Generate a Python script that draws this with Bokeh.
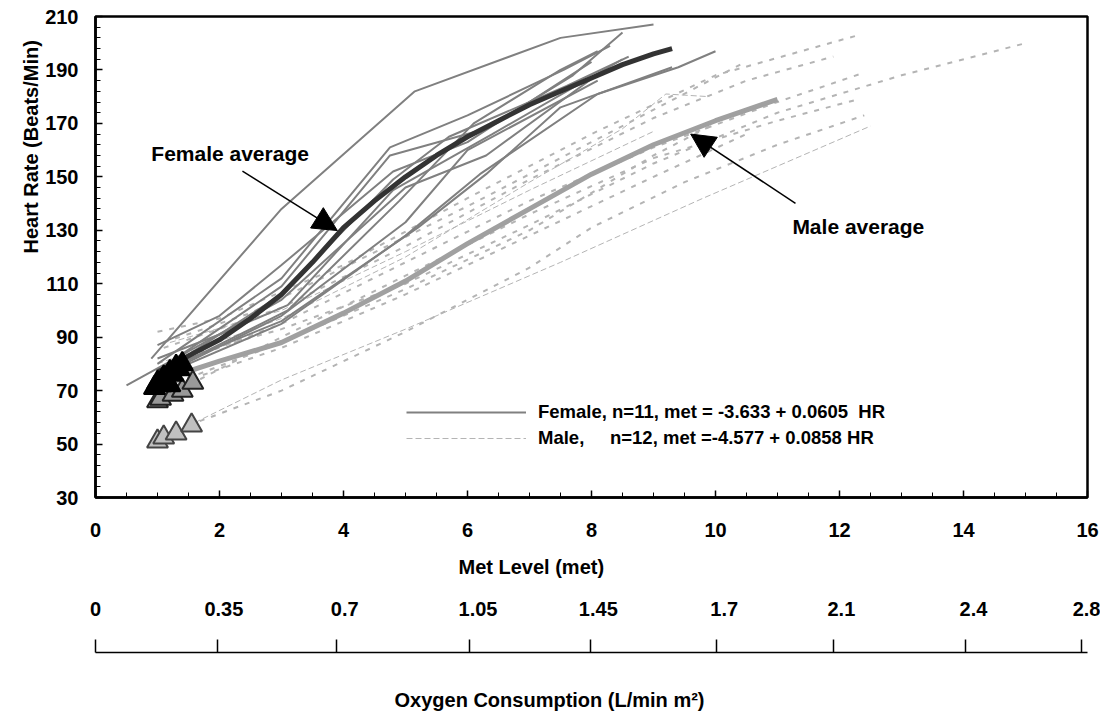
from bokeh.plotting import figure
from bokeh.models import (Range1d, LinearAxis, FixedTicker, Arrow, NormalHead,
                          Label, Legend, LegendItem, Title)
from bokeh.embed import file_html
from bokeh.resources import INLINE

FONT = "Liberation Sans"

# ---------------- data ----------------
met_ticks = [0, 2, 4, 6, 8, 10, 12, 14, 16]
met_minor = [i * 0.5 for i in range(33)]
hr_ticks = [30, 50, 70, 90, 110, 130, 150, 170, 190, 210]
hr_minor = list(range(30, 211, 4))
# oxygen consumption scale (tick marks and their labels, positions in met units)
oxygen_tick_met = [0, 1.96, 3.89, 6.03, 7.98, 10.01, 11.9, 14.03, 15.9]
oxygen_label_met = [0, 2.07, 4.02, 6.17, 8.11, 10.14, 12.03, 14.16, 16.0]
oxygen_labels = ["0", "0.35", "0.7", "1.05", "1.45", "1.7", "2.1", "2.4", "2.8"]

female_x = [
    [0.9, 3.0, 5.15, 7.5, 9.0],
    [1.0, 3.0, 4.75, 6.0, 7.55, 8.3],
    [1.1, 3.0, 4.75, 6.3, 7.7, 8.5],
    [1.0, 3.0, 4.8, 5.7, 7.6, 8.6],
    [1.2, 3.1, 4.9, 6.1, 7.5, 8.1],
    [1.0, 3.0, 5.0, 6.0, 8.1],
    [0.5, 1.6, 3.0, 5.0, 6.3, 8.2],
    [1.3, 3.0, 5.2, 6.3, 7.5, 9.3],
    [1.2, 3.0, 5.0, 6.2, 8.1, 9.4, 10.0],
    [1.0, 2.0, 3.0, 4.8, 6.0, 8.0],
    [1.0, 2.0, 3.1, 4.8, 6.4, 8.5],
]
female_y = [
    [82, 138, 182, 202, 207],
    [80, 112, 161, 173, 190, 199],
    [79, 109, 158, 168, 188, 204],
    [76, 106, 149, 165, 184, 195],
    [78, 100, 141, 170, 190, 197],
    [75, 98, 133, 160, 186],
    [72, 86, 104, 146, 158, 190],
    [80, 96, 131, 151, 176, 191],
    [77, 95, 128, 151, 181, 191, 197],
    [87, 98, 117, 152, 163, 193],
    [82, 91, 102, 145, 166, 194],
]

male_x = [
    [1.0, 2.0, 4.0, 6.0, 8.0, 10.0, 12.3],
    [1.3, 3.0, 5.0, 7.0, 9.0, 11.0, 13.0, 15.0],
    [1.1, 3.0, 5.0, 7.0, 9.0, 10.5, 11.9],
    [1.2, 3.0, 5.0, 7.0, 9.0, 11.0, 12.4],
    [1.0, 3.0, 5.0, 7.0, 9.0, 11.0, 12.3],
    [1.5, 3.0, 5.0, 7.0, 8.0, 9.5, 11.0, 12.4],
    [1.1, 2.5, 4.0, 6.0, 8.0, 10.4],
    [1.3, 3.0, 5.0, 7.0, 9.0, 10.0],
    [1.0, 3.0, 5.0, 7.0, 9.0, 10.5],
]
male_y = [
    [92, 97, 117, 142, 166, 188, 203],
    [82, 93, 110, 132, 155, 174, 188, 200],
    [86, 101, 124, 149, 172, 186, 195],
    [79, 95, 118, 141, 161, 178, 189],
    [66, 90, 113, 136, 157, 171, 179],
    [57, 70, 92, 116, 131, 148, 162, 173],
    [88, 99, 116, 139, 163, 192],
    [73, 88, 108, 130, 158, 170],
    [70, 86, 106, 128, 150, 166],
]
male_thin_x = [
    [1.6, 3.0, 5.0, 7.5, 9.8, 12.5],
    [1.0, 3.0, 5.0, 7.0, 8.5, 9.2, 9.9],
    [1.2, 3.0, 5.0, 7.0, 9.0],
]
male_thin_y = [
    [58, 74, 93, 118, 142, 169],
    [80, 97, 120, 148, 168, 181, 180],
    [88, 100, 122, 145, 167],
]

female_avg_x = [1.0, 1.5, 2.0, 2.5, 3.0, 3.5, 4.0, 4.5, 5.0, 5.5, 6.0, 6.5, 7.0, 7.5, 8.0, 8.5, 9.0, 9.3]
female_avg_y = [77, 83, 89, 97, 106, 118, 131, 141, 150, 158, 165, 171, 177, 182, 187, 192, 196, 198]
male_avg_x = [1.2, 2.0, 3.0, 4.0, 5.0, 6.0, 7.0, 8.0, 9.0, 10.0, 11.0]
male_avg_y = [75, 81, 88, 99, 111, 125, 138, 151, 162, 171, 179]

female_rest_x = [0.95, 1.0, 1.05, 1.1, 1.15, 1.2, 1.25, 1.3, 1.35, 1.4, 1.2]
female_rest_y = [71, 73, 72, 75, 74, 77, 76, 79, 78, 80, 72]
male_rest_x = [1.0, 1.05, 1.25, 1.4, 1.57]
male_rest_y = [66, 67, 68.5, 70, 73]
male_rest_low_x = [1.0, 1.1, 1.3, 1.55]
male_rest_low_y = [51, 52.5, 54, 57]

female_note = (0.9, 158.7, "Female average")
male_note = (11.24, 131.4, "Male average")
female_arrow = (2.37, 152.1, 3.9, 129.9)
male_arrow = (11.29, 140.1, 9.6, 166.0)

legend_female = "Female, n=11, met = -3.633 + 0.0605  HR"
legend_male = "Male,     n=12, met =-4.577 + 0.0858 HR"

x_title = "Met Level (met)"
y_title = "Heart Rate (Beats/Min)"
oxy_title = "Oxygen Consumption (L/min m\u00b2)"

# ---------------- figure ----------------
p = figure(width=1100, height=713, x_range=Range1d(0, 16), y_range=Range1d(30, 210),
           output_backend="svg", toolbar_location=None,
           min_border_left=95, min_border_right=13, min_border_top=16, min_border_bottom=216)
p.xgrid.visible = False
p.ygrid.visible = False
p.outline_line_color = "black"
p.outline_line_width = 2.5
p.background_fill_color = "white"
p.border_fill_color = "white"

tick_font = "20px"


def style_axis(ax):
    ax.major_label_text_font = FONT
    ax.major_label_text_font_style = "bold"
    ax.major_label_text_font_size = tick_font
    ax.major_label_text_color = "black"
    ax.axis_label_text_font = FONT
    ax.axis_label_text_font_style = "bold"
    ax.axis_label_text_font_size = tick_font
    ax.axis_label_text_color = "black"
    ax.axis_line_color = "black"
    ax.axis_line_width = 2.5
    ax.major_tick_line_color = "black"
    ax.minor_tick_line_color = "black"
    ax.major_tick_line_width = 1.5
    ax.minor_tick_line_width = 1


def make_title(text, offset, standoff):
    return Title(text=text, align="left", offset=offset, standoff=standoff,
                 text_font=FONT, text_font_style="bold", text_font_size=tick_font,
                 text_color="black")


xa = p.xaxis[0]
xa.ticker = FixedTicker(ticks=met_ticks, minor_ticks=met_minor)
style_axis(xa)
xa.major_tick_in = 7
xa.major_tick_out = 0
xa.minor_tick_in = 5
xa.minor_tick_out = 0
xa.major_label_standoff = 25

ya = p.yaxis[0]
ya.ticker = FixedTicker(ticks=hr_ticks, minor_ticks=hr_minor)
style_axis(ya)
ya.major_tick_in = 7
ya.major_tick_out = 0
ya.minor_tick_in = 5
ya.minor_tick_out = 0
ya.major_label_standoff = 17

# axis titles (placed off the frame centre like the original)
p.add_layout(make_title(y_title, 244, 2), "left")
p.add_layout(make_title(x_title, 363, 29), "below")

# oxygen consumption secondary scale: labels row, then line with upward ticks
oxy_lab = LinearAxis(ticker=FixedTicker(ticks=oxygen_label_met, minor_ticks=[]),
                     major_label_overrides={t: l for t, l in zip(oxygen_label_met, oxygen_labels)})
style_axis(oxy_lab)
oxy_lab.axis_line_color = None
oxy_lab.major_tick_line_color = None
oxy_lab.minor_tick_line_color = None
oxy_lab.major_tick_out = 0
oxy_lab.major_tick_in = 0
oxy_lab.major_label_standoff = 9
oxy_lab.axis_label = "\u2002"
oxy_lab.axis_label_standoff = 9
p.add_layout(oxy_lab, "below")

oxy_line = LinearAxis(ticker=FixedTicker(ticks=oxygen_tick_met, minor_ticks=[]))
style_axis(oxy_line)
oxy_line.axis_line_width = 1.5
oxy_line.major_tick_in = 13
oxy_line.major_tick_out = 0
oxy_line.major_label_text_alpha = 0
oxy_line.major_label_text_font_size = "1px"
oxy_line.major_label_standoff = 0
oxy_line.axis_label = "\u2002"
oxy_line.axis_label_text_font_size = "1px"
oxy_line.axis_label_standoff = 30
p.add_layout(oxy_line, "below")
p.add_layout(make_title(oxy_title, 299, 0), "below")

# ---------------- glyphs ----------------
r_male = p.multi_line(male_x, male_y, line_color="#b4b4b4", line_width=2, line_dash="5 7")
r_male_thin = p.multi_line(male_thin_x, male_thin_y, line_color="#b4b4b4", line_width=1, line_dash="6 3")
r_fem = p.multi_line(female_x, female_y, line_color="#808080", line_width=2)
p.line(male_avg_x, male_avg_y, line_color="#a0a0a0", line_width=5)
p.line(female_avg_x, female_avg_y, line_color="#333333", line_width=5)

p.scatter(male_rest_x, male_rest_y, marker="triangle", size=21, fill_color="#999999",
          line_color="#222222", line_width=2)
p.scatter(female_rest_x, female_rest_y, marker="triangle", size=21, fill_color="black",
          line_color="black", line_width=2)
p.scatter(male_rest_low_x, male_rest_low_y, marker="triangle", size=21, fill_color="#c0c0c0",
          line_color="#444444", line_width=2)

# annotations
for (tx, ty, txt) in (female_note, male_note):
    p.add_layout(Label(x=tx, y=ty, text=txt, text_font=FONT, text_font_style="bold",
                       text_font_size="21px", text_baseline="middle", text_color="black"))
for (x0, y0, x1, y1) in (female_arrow, male_arrow):
    p.add_layout(Arrow(x_start=x0, y_start=y0, x_end=x1, y_end=y1, line_width=1.5,
                       line_color="black",
                       end=NormalHead(size=24, fill_color="black", line_color="black")))

legend = Legend(items=[LegendItem(label=legend_female, renderers=[r_fem]),
                       LegendItem(label=legend_male, renderers=[r_male_thin])],
                location=(311, 48), glyph_width=120, glyph_height=22, label_height=22,
                spacing=4, padding=0, margin=0, label_standoff=12,
                border_line_color=None, background_fill_alpha=0,
                label_text_font=FONT, label_text_font_style="bold",
                label_text_font_size="18.5px", label_text_color="black")
p.add_layout(legend)

open("out.html", "w").write(file_html(p, INLINE))
